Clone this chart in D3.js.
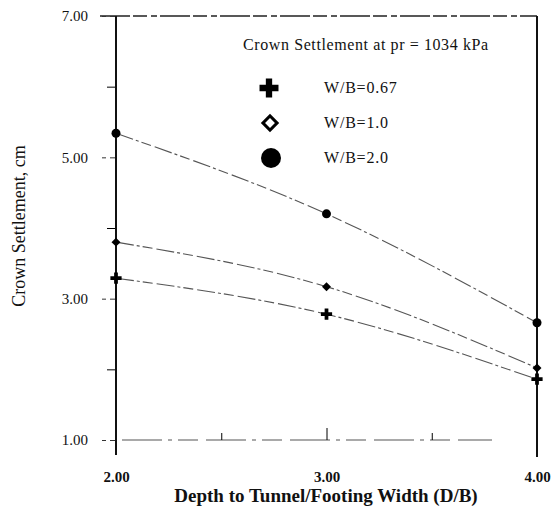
<!DOCTYPE html>
<html>
<head>
<script src="https://d3js.org/d3.v7.min.js"></script>
<style>
  body { margin: 0; background: #fff; }
  text { font-family: "Liberation Serif", "DejaVu Serif", serif; fill: #111; }
</style>
</head>
<body>
<div class="chart"></div>
<script>
// depth ratio D/B
var depth = [2, 3, 4];
// crown settlement (cm) per footing width ratio
var wb067 = [3.29, 2.78, 1.86];
var wb10 = [3.80, 3.17, 2.02];
var wb20 = [5.34, 4.20, 2.66];
var seriesNames = ["W/B=0.67", "W/B=1.0", "W/B=2.0"];
var yMajor = [1, 3, 5, 7];
var yMinor = [2, 4, 6];
var xMajor = [2, 3, 4];
var xMinor = [2.5, 3.5];

var w = 554, h = 509;
var svg = d3.select("div.chart").append("svg").attr("width", w).attr("height", h);

var xScale = d3.scaleLinear().domain([2, 4]).range([116, 537]);
var yScale = d3.scaleLinear().domain([1, 7]).range([440, 16]);

// frame: dashed top and bottom, solid sides
svg.append("line").attr("x1", 100).attr("x2", 537).attr("y1", yScale(7)).attr("y2", yScale(7))
  .attr("stroke", "#222").attr("stroke-width", 1.3).attr("stroke-dasharray", "30,3,14,4,6,3");
svg.append("line").attr("x1", 122).attr("x2", 492).attr("y1", yScale(1)).attr("y2", yScale(1))
  .attr("stroke", "#555").attr("stroke-width", 1.2).attr("stroke-dasharray", "40,6,4,6,20,8");
svg.append("line").attr("x1", 537).attr("x2", 537).attr("y1", yScale(7)).attr("y2", 457)
  .attr("stroke", "#111").attr("stroke-width", 2);

// y axis
var yAxis = d3.axisLeft(yScale).tickValues(yMajor).tickFormat(d3.format(".2f"))
  .tickSize(14).tickPadding(14);
var gy = svg.append("g").attr("transform", "translate(116,0)").call(yAxis);
gy.select(".domain").remove();
gy.selectAll(".tick line").attr("stroke", "#333").attr("stroke-dasharray", "6,4");
gy.selectAll("text").style("font-size", "15px").style("font-family", "Liberation Serif");
var gyMinor = svg.append("g").attr("transform", "translate(116,0)")
  .call(d3.axisLeft(yScale).tickValues(yMinor).tickFormat("").tickSize(9));
gyMinor.select(".domain").remove();
svg.append("line").attr("x1", 116).attr("x2", 116).attr("y1", yScale(7)).attr("y2", 455)
  .attr("stroke", "#111").attr("stroke-width", 2);

// x axis
var xAxis = d3.axisBottom(xScale).tickValues(xMajor).tickFormat(d3.format(".2f"))
  .tickSize(0).tickPadding(31);
var gx = svg.append("g").attr("transform", "translate(0," + yScale(1) + ")").call(xAxis);
gx.select(".domain").remove();
gx.selectAll("text").style("font-size", "15px").style("font-weight", "bold")
  .style("font-family", "Liberation Serif");
var gxIn = svg.append("g").attr("transform", "translate(0," + yScale(1) + ")")
  .call(d3.axisBottom(xScale).tickValues([3]).tickFormat("").tickSize(-12));
gxIn.select(".domain").remove();
var gxMinor = svg.append("g").attr("transform", "translate(0," + yScale(1) + ")")
  .call(d3.axisBottom(xScale).tickValues(xMinor).tickFormat("").tickSize(-7));
gxMinor.select(".domain").remove();

// curves
var line = d3.line()
  .x(function(d, i) { return xScale(depth[i]); })
  .y(function(d) { return yScale(d); })
  .curve(d3.curveNatural);
[wb067, wb10, wb20].forEach(function(s) {
  svg.append("path").attr("d", line(s)).attr("fill", "none")
    .attr("stroke", "#555").attr("stroke-width", 1.1)
    .attr("stroke-dasharray", "18,3,3,3,10,4");
});

// markers
var plus = d3.symbol().type(d3.symbolCross);
var diamond = d3.symbol().type(d3.symbolSquare);
function drawMarker(g, kind, x, y, scale) {
  if (kind === 0) {
    g.append("path").attr("d", plus.size(70 * scale)())
      .attr("transform", "translate(" + x + "," + y + ")").attr("fill", "#000");
  } else if (kind === 1) {
    if (scale > 2) {
      g.append("rect").attr("x", -5).attr("y", -5).attr("width", 10).attr("height", 10)
        .attr("transform", "translate(" + x + "," + y + ") rotate(45)")
        .attr("fill", "#fff").attr("stroke", "#000").attr("stroke-width", 3);
    } else {
      g.append("path").attr("d", diamond.size(40 * scale)())
        .attr("transform", "translate(" + x + "," + y + ") rotate(45)").attr("fill", "#000");
    }
  } else {
    g.append("circle").attr("cx", x).attr("cy", y).attr("r", 4.5 * Math.sqrt(scale))
      .attr("fill", "#000");
  }
}
[wb067, wb10, wb20].forEach(function(s, k) {
  s.forEach(function(v, i) {
    drawMarker(svg, k, xScale(depth[i]), yScale(v), 1);
  });
});

// legend
svg.append("text").attr("x", 243).attr("y", 50).style("font-size", "16px")
  .style("letter-spacing", "0.6px")
  .text("Crown Settlement at pr  = 1034 kPa");
var legY = [88, 123, 158];
seriesNames.forEach(function(n, k) {
  if (k === 0) {
    svg.append("path").attr("d", plus.size(200)()).attr("transform", "translate(269," + legY[k] + ")")
      .attr("fill", "#000");
  } else if (k === 1) {
    drawMarker(svg, 1, 270, legY[k], 3);
  } else {
    svg.append("circle").attr("cx", 271).attr("cy", legY[k]).attr("r", 10).attr("fill", "#000");
  }
  svg.append("text").attr("x", 324).attr("y", legY[k] + 5).style("font-size", "16px")
    .style("letter-spacing", "0.8px").text(n);
});

// axis titles
svg.append("text").attr("x", 326).attr("y", 502).attr("text-anchor", "middle")
  .style("font-size", "19px").style("font-weight", "bold")
  .text("Depth to Tunnel/Footing Width (D/B)");
svg.append("text").attr("transform", "translate(25,226) rotate(-90)").attr("text-anchor", "middle")
  .style("font-size", "18px").text("Crown Settlement, cm");
</script>
</body>
</html>
